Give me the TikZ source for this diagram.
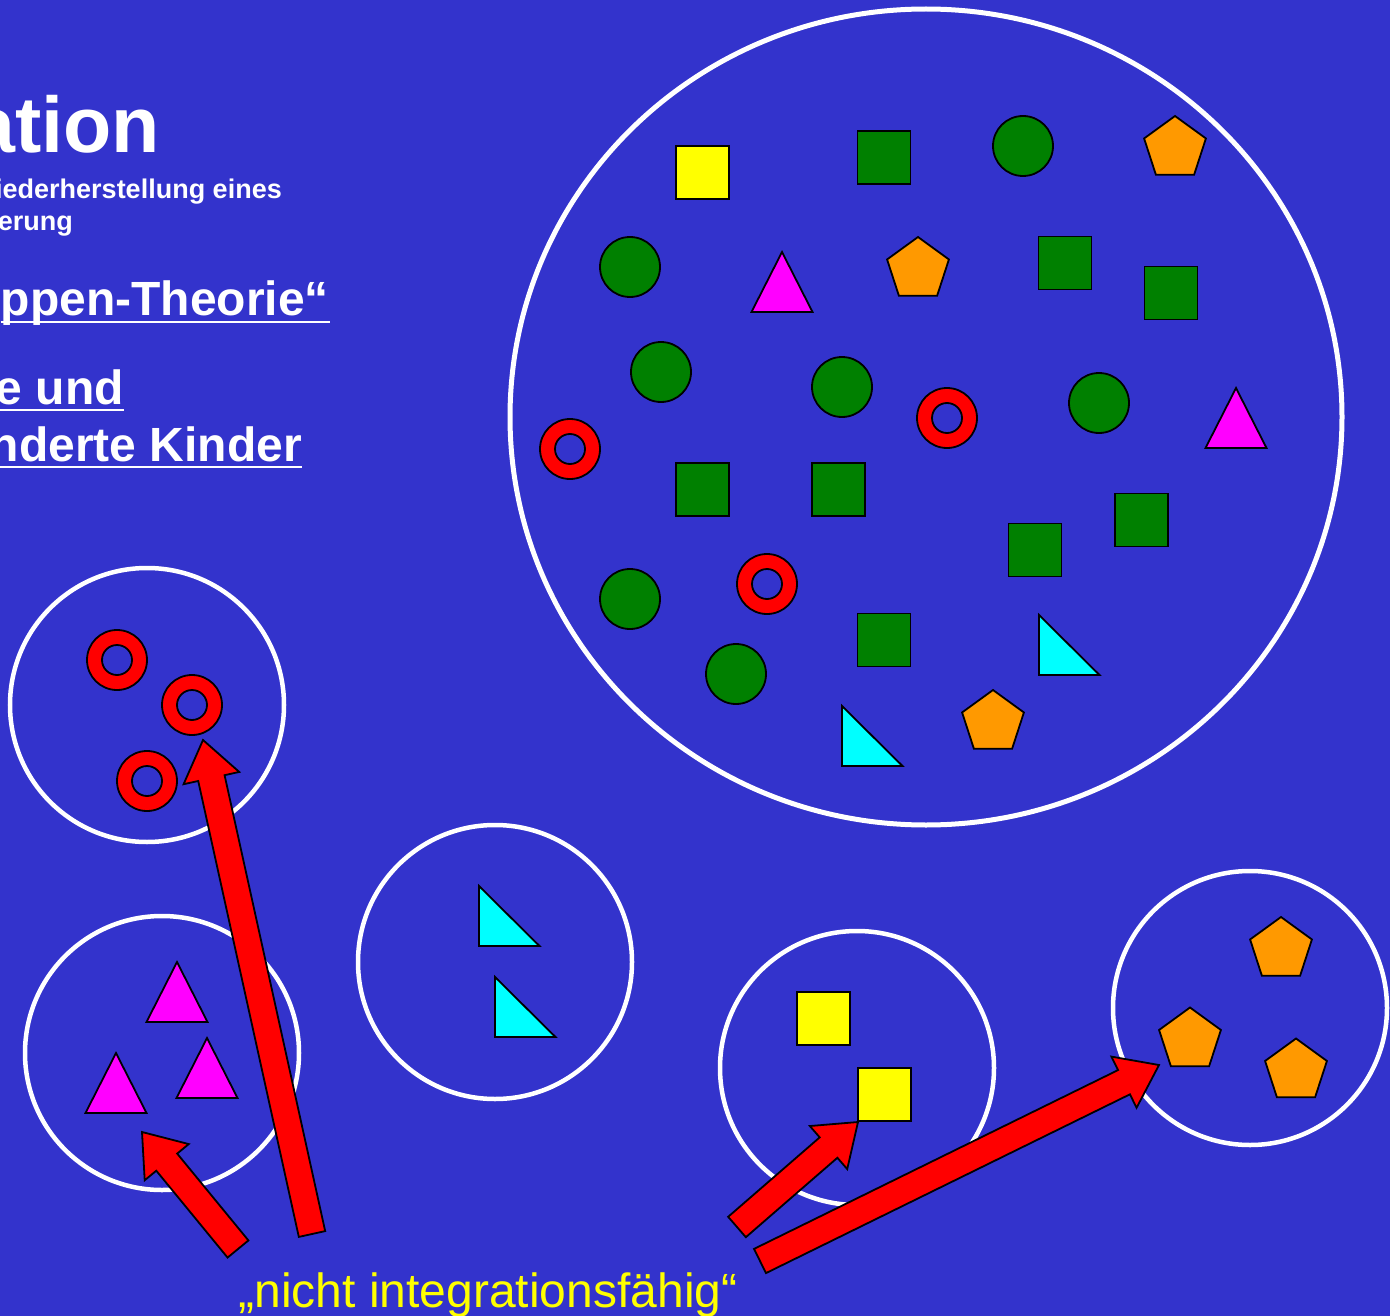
\documentclass[tikz,border=0pt]{standalone}
\usepackage{fontspec}
\setmainfont{Liberation Sans}
\usetikzlibrary{calc,shapes.geometric}
\definecolor{bgblue}{HTML}{3333CC}
\definecolor{sgreen}{HTML}{008000}
\definecolor{sorange}{HTML}{FF9900}
\definecolor{smagenta}{HTML}{FF00FF}
\definecolor{scyan}{HTML}{00FFFF}
\definecolor{syellow}{HTML}{FFFF00}
\definecolor{sred}{HTML}{FF0000}
\tikzset{
  outl/.style={draw=black,line width=1.8pt},
  group/.style={circle,draw=white,line width=4.5pt,minimum size=274pt,inner sep=0pt},
  sq/.style={outl,rectangle,minimum size=53pt,inner sep=0pt},
  gsq/.style={sq,fill=sgreen},
  ysq/.style={sq,fill=syellow},
  gdot/.style={outl,circle,minimum size=60pt,inner sep=0pt,fill=sgreen},
  penta/.style={outl,regular polygon,regular polygon sides=5,minimum size=65pt,inner sep=0pt,fill=sorange},
  ringstyle/.style={outl,fill=sred,even odd rule},
  mtri/.style={outl,fill=smagenta,line join=miter},
  ctri/.style={outl,fill=scyan,line join=miter},
  arrowbody/.style={draw=black,line width=1.8pt,fill=sred,line join=miter},
  headtext/.style={text=white,font=\bfseries\fontsize{48}{48}\selectfont,inner sep=0pt,anchor=base east},
  subtext/.style={text=white,font=\bfseries\fontsize{27}{27}\selectfont,inner sep=0pt,anchor=base east},
  uline/.style={draw=white,line width=2.8pt}
}
\newcommand\ringat[3]{\path (#2,#3) coordinate (#1); \draw[ringstyle] (#1) circle[radius=30] (#1) circle[radius=15];}
\newcommand\mtriat[3]{\draw[mtri] (#2,#3) coordinate (#1) -- ++(30.5,60) -- ++(-61,0) -- cycle;}
\newcommand\ctriat[3]{\draw[ctri] (#2,#3) coordinate (#1) -- ++(0,60) -- ++(60.5,0) -- cycle;}
\newcommand\blockarrow[2]{%
  \path ($(#2)!39pt!(#1)$) coordinate (bah);
  \draw[arrowbody] ($(#1)!13.5pt!90:(#2)$) -- ($(bah)!13.5pt!-90:(#1)$) -- ($(bah)!28.5pt!-90:(#1)$) -- (#2) -- ($(bah)!28.5pt!90:(#1)$) -- ($(bah)!13.5pt!90:(#1)$) -- ($(#1)!13.5pt!-90:(#2)$) -- cycle;}
\begin{document}
\begin{tikzpicture}[x=1pt,y=-1pt]
\fill[bgblue] (0,0) rectangle (1390,1316);
\useasboundingbox (0,0) rectangle (1390,1316);

% texts
\node[text=white,font=\bfseries\fontsize{79}{79}\selectfont,inner sep=0pt,anchor=base east] (title) at (160,153) {ation};
\node[subtext] (sub1) at (282,199) {iederherstellung eines};
\node[subtext] (sub2) at (73,231) {erung};
\node[headtext] (h1) at (329,316) {ppen-Theorie“};
\node[headtext] (h2) at (124,404) {e und};
\node[headtext] (h3) at (302,461) {nderte Kinder};
\draw[uline] ($(h1.base west)+(0,6)$) -- ($(h1.base east)+(1,6)$);
\draw[uline] ($(h2.base west)+(0,6)$) -- ($(h2.base east)+(0,6)$);
\draw[uline] ($(h3.base west)+(0,6)$) -- ($(h3.base east)+(0,6)$);
\node[text=syellow,font=\fontsize{48}{48}\selectfont,inner sep=0pt,anchor=base] (lab) at (488,1307) {„nicht integrationsfähig“};

% group circles
\node[ellipse,draw=white,line width=5pt,minimum width=832pt,minimum height=816pt,inner sep=0pt] (big) at (926,417) {};
\node[group] (g1) at (147,705) {};
\node[group] (g2) at (162,1053) {};
\node[group] (g3) at (495,962) {};
\node[group] (g4) at (857,1068) {};
\node[group] (g5) at (1250,1008) {};

% big circle content
\node[ysq] (y1) at (702.5,172.5) {};
\node[gsq] (s1) at (884,157.5) {};
\node[gsq] (s2) at (1065,263) {};
\node[gsq] (s3) at (1171,293) {};
\node[gsq] (s4) at (702.5,489.5) {};
\node[gsq] (s5) at (838.5,489.5) {};
\node[gsq] (s6) at (1141.5,520) {};
\node[gsq] (s7) at (1035,550) {};
\node[gsq] (s8) at (884,640) {};
\node[gdot] (d1) at (1023,146) {};
\node[gdot] (d2) at (630,267) {};
\node[gdot] (d3) at (661,372) {};
\node[gdot] (d4) at (842,387) {};
\node[gdot] (d5) at (1099,403) {};
\node[gdot] (d6) at (630,599) {};
\node[gdot] (d7) at (736,674) {};
\node[penta] (p1) at (1175,148.5) {};
\node[penta] (p2) at (918,269.5) {};
\node[penta] (p3) at (993,722.5) {};
\ringat{r1}{570}{449}
\ringat{r2}{947}{418}
\ringat{r3}{767}{584}
\mtriat{m1}{782}{252}
\mtriat{m2}{1236}{388}
\ctriat{c1}{1039}{615}
\ctriat{c2}{842}{706}

% group 1: rings
\ringat{r4}{117}{660}
\ringat{r5}{192}{705}
\ringat{r6}{147}{781}
% group 2: triangles
\mtriat{m3}{177}{962}
\mtriat{m4}{207}{1038}
\mtriat{m5}{116}{1053}
% group 3: right triangles
\ctriat{c3}{479}{886}
\ctriat{c4}{495}{977}
% group 4: yellow squares
\node[ysq] (y2) at (823.5,1018.5) {};
\node[ysq] (y3) at (884.5,1094.5) {};
% group 5: pentagons
\node[penta] (p4) at (1281,949.5) {};
\node[penta] (p5) at (1190,1040) {};
\node[penta] (p6) at (1296,1071) {};

% arrows
\coordinate (a1t) at (312,1234); \coordinate (a1h) at (203,740);
\coordinate (a2t) at (238,1249); \coordinate (a2h) at (142,1132);
\coordinate (a3t) at (737,1227); \coordinate (a3h) at (858,1122);
\coordinate (a4t) at (760,1261); \coordinate (a4h) at (1159,1065);
\blockarrow{a1t}{a1h}
\blockarrow{a2t}{a2h}
\blockarrow{a3t}{a3h}
\blockarrow{a4t}{a4h}
\end{tikzpicture}
\end{document}
